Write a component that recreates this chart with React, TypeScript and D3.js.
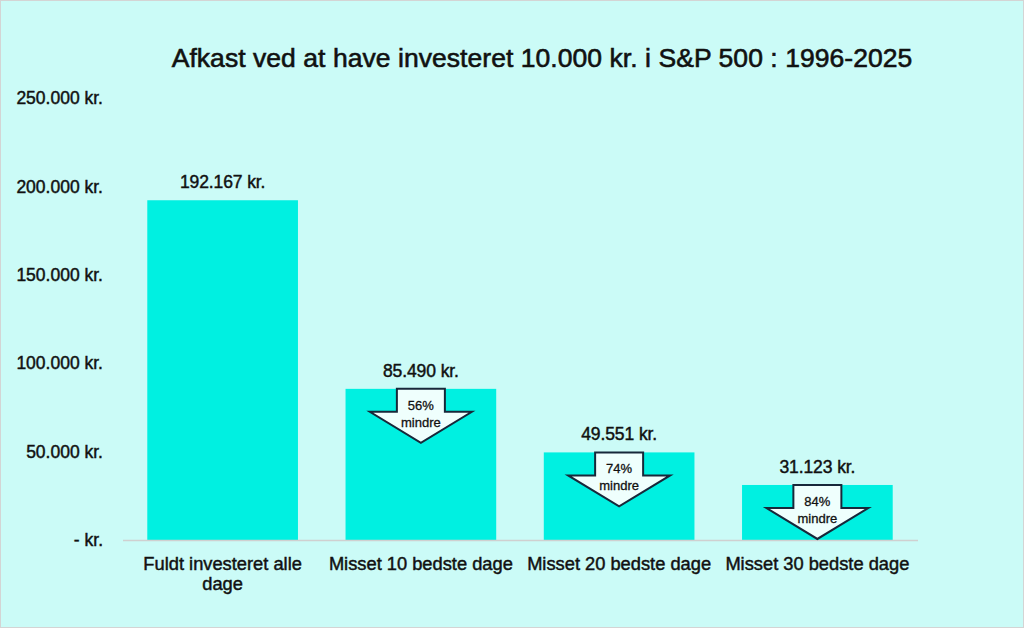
import React, { useEffect, useRef } from 'react';
import * as d3 from 'd3';

const categories = [
  'Fuldt investeret alle dage',
  'Misset 10 bedste dage',
  'Misset 20 bedste dage',
  'Misset 30 bedste dage',
];
const values = [192167, 85490, 49551, 31123];
const lessPct = [null, '56%', '74%', '84%'];
const yTicks = [0, 50000, 100000, 150000, 200000, 250000];
const title = 'Afkast ved at have investeret 10.000 kr. i S&P 500 : 1996-2025';

const W = 1024;
const H = 628;
const FONT = '"Liberation Sans", Arial, sans-serif';
const INK = '#111';

const fmtKr = (v: number) =>
  v === 0 ? '- kr.' : d3.format(',')(v).replace(/,/g, '.') + ' kr.';

const App: React.FC = () => {
  const ref = useRef<SVGSVGElement>(null);

  useEffect(() => {
    const { current: node } = ref;
    if (!node) return;
    const svg = d3.select(node);
    svg.selectAll('*').remove();

    // baggrund + kant
    svg
      .append('rect')
      .attr('x', 0.5)
      .attr('y', 0.5)
      .attr('width', W - 1)
      .attr('height', H - 1)
      .attr('fill', '#cbfbf7')
      .attr('stroke', '#d4d4d4');

    // lidt tykkere tekst (medium vægt)
    const medium = (sel: any, w = 0.45) =>
      sel.attr('stroke', INK).attr('stroke-width', w).attr('fill', INK);

    svg
      .append('text')
      .attr('x', 542)
      .attr('y', 67)
      .attr('text-anchor', 'middle')
      .attr('font-family', FONT)
      .attr('font-size', 26.5)
      .attr('letter-spacing', 0.05)
      .call(medium, 0.6)
      .text(title);

    const x = d3
      .scaleBand<string>()
      .domain(categories)
      .range([123.5, 916.5])
      .paddingInner(0.24)
      .paddingOuter(0.12);
    const y = d3.scaleLinear().domain([0, 250000]).range([540, 98]);

    // y-akse labels
    svg
      .append('g')
      .selectAll('text')
      .data(yTicks)
      .join('text')
      .attr('x', 103)
      .attr('y', (d) => y(d))
      .attr('dy', '0.35em')
      .attr('text-anchor', 'end')
      .attr('font-family', FONT)
      .attr('font-size', 17.5)
      .call(medium)
      .text((d) => fmtKr(d));

    // søjler
    const g = svg.append('g');
    g.selectAll('rect')
      .data(values)
      .join('rect')
      .attr('x', (_, i) => x(categories[i])!)
      .attr('y', (d) => y(d))
      .attr('width', x.bandwidth())
      .attr('height', (d) => y(0) - y(d))
      .attr('fill', '#00f0e1');

    // nullinje
    svg
      .append('line')
      .attr('x1', 123)
      .attr('x2', 918)
      .attr('y1', y(0) + 0.5)
      .attr('y2', y(0) + 0.5)
      .attr('stroke', '#d0d0d0')
      .attr('stroke-width', 1.5);

    // værdi labels
    svg
      .append('g')
      .selectAll('text')
      .data(values)
      .join('text')
      .attr('x', (_, i) => x(categories[i])! + x.bandwidth() / 2)
      .attr('y', (d) => y(d) - 12)
      .attr('text-anchor', 'middle')
      .attr('font-family', FONT)
      .attr('font-size', 17.5)
      .attr('letter-spacing', -0.1)
      .call(medium)
      .text((d) => fmtKr(d));

    // pile
    const arrows = svg
      .append('g')
      .selectAll('g')
      .data(values.map((v, i) => ({ v, i, pct: lessPct[i] })).filter((d) => d.pct))
      .join('g')
      .attr(
        'transform',
        (d) => `translate(${x(categories[d.i])! + x.bandwidth() / 2},${y(d.v)})`
      );
    arrows
      .append('path')
      .attr('d', 'M-24,0 L24,0 L24,23 L51,23 L0,54 L-51,23 L-24,23 Z')
      .attr('fill', '#effffd')
      .attr('stroke', '#17283a')
      .attr('stroke-width', 2)
      .attr('stroke-linejoin', 'miter');
    arrows
      .append('text')
      .attr('y', 21)
      .attr('text-anchor', 'middle')
      .attr('font-family', FONT)
      .attr('font-size', 13)
      .call(medium, 0.3)
      .text((d) => d.pct!);
    arrows
      .append('text')
      .attr('y', 38)
      .attr('text-anchor', 'middle')
      .attr('font-family', FONT)
      .attr('font-size', 13)
      .call(medium, 0.3)
      .text('mindre');

    // kategori labels
    const catLines = (c: string) =>
      c === 'Fuldt investeret alle dage' ? ['Fuldt investeret alle', 'dage'] : [c];
    svg
      .append('g')
      .selectAll('text')
      .data(categories)
      .join('text')
      .attr('x', (d) => x(d)! + x.bandwidth() / 2)
      .attr('y', 570)
      .attr('text-anchor', 'middle')
      .attr('font-family', FONT)
      .attr('font-size', 18.3)
      .call(medium)
      .each(function (d) {
        const t = d3.select(this);
        catLines(d).forEach((line, k) => {
          t.append('tspan')
            .attr('x', x(d)! + x.bandwidth() / 2)
            .attr('dy', k === 0 ? 0 : 20)
            .text(line);
        });
      });
  }, []);

  return (
    <svg
      ref={ref}
      width={W}
      height={H}
      style={{ position: 'absolute', left: 0, top: 0 }}
    />
  );
};

export default App;
